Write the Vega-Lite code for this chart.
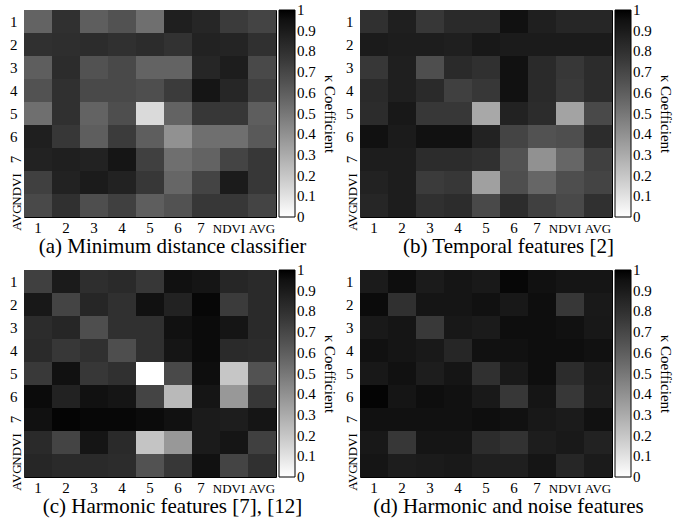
{
  "$schema": "https://vega.github.io/schema/vega-lite/v6.json",
  "padding": {"left": 7, "top": 9, "right": 0, "bottom": 0},
  "background": "white",
  "config": {
    "view": {"stroke": "black", "strokeWidth": 1},
    "font": "Liberation Serif",
    "axisX": {
      "title": null, "ticks": false, "domain": false, "labelAngle": 0,
      "labelFont": "Liberation Serif", "labelColor": "black",
      "labelFontSize": {"condition": {"test": "datum.value == 'NDVI' || datum.value == 'AVG'", "value": 13}, "value": 15},
      "labelOffset": {"condition": {"test": "datum.value == '7' || datum.value == 'NDVI'", "value": -5}, "value": 0},
      "labelAlign": "center",
      "labelBaseline": "alphabetic", "labelPadding": 15
    },
    "axisY": {
      "title": null, "ticks": false, "domain": false,
      "labelFont": "Liberation Serif", "labelColor": "black",
      "labelFontSize": {"condition": {"test": "datum.value == 'NDVI' || datum.value == 'AVG'", "value": 13}, "value": 15},
      "labelPadding": 7
    },
    "legend": {
      "orient": "right", "offset": 3, "direction": "vertical",
      "gradientLength": 207, "gradientThickness": 16,
      "gradientStrokeColor": "black", "gradientStrokeWidth": 1,
      "labelFont": "Liberation Serif", "labelFontSize": 15, "labelColor": "black",
      "labelOffset": 2, "labelOverlap": false, "labelBaseline": "middle",
      "titleFont": "Liberation Serif", "titleFontSize": 15, "titleFontWeight": "normal", "titleColor": "black",
      "titleOrient": "right", "titleAnchor": "middle", "titlePadding": 6
    },
    "title": {"font": "Liberation Serif", "fontSize": 21, "fontWeight": "normal", "color": "black", "orient": "bottom", "anchor": "middle", "frame": "bounds", "offset": 1}
  },
  "data": {"values": [
    {"p":"a","r":"1","c":"1","v":0.58},{"p":"a","r":"1","c":"2","v":0.80},{"p":"a","r":"1","c":"3","v":0.60},{"p":"a","r":"1","c":"4","v":0.65},{"p":"a","r":"1","c":"5","v":0.53},{"p":"a","r":"1","c":"6","v":0.88},{"p":"a","r":"1","c":"7","v":0.85},{"p":"a","r":"1","c":"NDVI","v":0.75},{"p":"a","r":"1","c":"AVG","v":0.71},
    {"p":"a","r":"2","c":"1","v":0.80},{"p":"a","r":"2","c":"2","v":0.81},{"p":"a","r":"2","c":"3","v":0.82},{"p":"a","r":"2","c":"4","v":0.80},{"p":"a","r":"2","c":"5","v":0.82},{"p":"a","r":"2","c":"6","v":0.79},{"p":"a","r":"2","c":"7","v":0.87},{"p":"a","r":"2","c":"NDVI","v":0.86},{"p":"a","r":"2","c":"AVG","v":0.80},
    {"p":"a","r":"3","c":"1","v":0.60},{"p":"a","r":"3","c":"2","v":0.82},{"p":"a","r":"3","c":"3","v":0.65},{"p":"a","r":"3","c":"4","v":0.69},{"p":"a","r":"3","c":"5","v":0.58},{"p":"a","r":"3","c":"6","v":0.58},{"p":"a","r":"3","c":"7","v":0.85},{"p":"a","r":"3","c":"NDVI","v":0.89},{"p":"a","r":"3","c":"AVG","v":0.69},
    {"p":"a","r":"4","c":"1","v":0.65},{"p":"a","r":"4","c":"2","v":0.80},{"p":"a","r":"4","c":"3","v":0.69},{"p":"a","r":"4","c":"4","v":0.69},{"p":"a","r":"4","c":"5","v":0.67},{"p":"a","r":"4","c":"6","v":0.75},{"p":"a","r":"4","c":"7","v":0.93},{"p":"a","r":"4","c":"NDVI","v":0.85},{"p":"a","r":"4","c":"AVG","v":0.73},
    {"p":"a","r":"5","c":"1","v":0.53},{"p":"a","r":"5","c":"2","v":0.80},{"p":"a","r":"5","c":"3","v":0.58},{"p":"a","r":"5","c":"4","v":0.67},{"p":"a","r":"5","c":"5","v":0.13},{"p":"a","r":"5","c":"6","v":0.58},{"p":"a","r":"5","c":"7","v":0.77},{"p":"a","r":"5","c":"NDVI","v":0.77},{"p":"a","r":"5","c":"AVG","v":0.60},
    {"p":"a","r":"6","c":"1","v":0.88},{"p":"a","r":"6","c":"2","v":0.77},{"p":"a","r":"6","c":"3","v":0.60},{"p":"a","r":"6","c":"4","v":0.75},{"p":"a","r":"6","c":"5","v":0.60},{"p":"a","r":"6","c":"6","v":0.40},{"p":"a","r":"6","c":"7","v":0.53},{"p":"a","r":"6","c":"NDVI","v":0.53},{"p":"a","r":"6","c":"AVG","v":0.62},
    {"p":"a","r":"7","c":"1","v":0.87},{"p":"a","r":"7","c":"2","v":0.88},{"p":"a","r":"7","c":"3","v":0.87},{"p":"a","r":"7","c":"4","v":0.93},{"p":"a","r":"7","c":"5","v":0.73},{"p":"a","r":"7","c":"6","v":0.53},{"p":"a","r":"7","c":"7","v":0.58},{"p":"a","r":"7","c":"NDVI","v":0.71},{"p":"a","r":"7","c":"AVG","v":0.77},
    {"p":"a","r":"NDVI","c":"1","v":0.73},{"p":"a","r":"NDVI","c":"2","v":0.87},{"p":"a","r":"NDVI","c":"3","v":0.90},{"p":"a","r":"NDVI","c":"4","v":0.87},{"p":"a","r":"NDVI","c":"5","v":0.77},{"p":"a","r":"NDVI","c":"6","v":0.57},{"p":"a","r":"NDVI","c":"7","v":0.71},{"p":"a","r":"NDVI","c":"NDVI","v":0.90},{"p":"a","r":"NDVI","c":"AVG","v":0.77},
    {"p":"a","r":"AVG","c":"1","v":0.69},{"p":"a","r":"AVG","c":"2","v":0.80},{"p":"a","r":"AVG","c":"3","v":0.67},{"p":"a","r":"AVG","c":"4","v":0.73},{"p":"a","r":"AVG","c":"5","v":0.60},{"p":"a","r":"AVG","c":"6","v":0.65},{"p":"a","r":"AVG","c":"7","v":0.77},{"p":"a","r":"AVG","c":"NDVI","v":0.77},{"p":"a","r":"AVG","c":"AVG","v":0.71},

    {"p":"b","r":"1","c":"1","v":0.80},{"p":"b","r":"1","c":"2","v":0.88},{"p":"b","r":"1","c":"3","v":0.77},{"p":"b","r":"1","c":"4","v":0.83},{"p":"b","r":"1","c":"5","v":0.83},{"p":"b","r":"1","c":"6","v":0.95},{"p":"b","r":"1","c":"7","v":0.88},{"p":"b","r":"1","c":"NDVI","v":0.85},{"p":"b","r":"1","c":"AVG","v":0.85},
    {"p":"b","r":"2","c":"1","v":0.90},{"p":"b","r":"2","c":"2","v":0.89},{"p":"b","r":"2","c":"3","v":0.89},{"p":"b","r":"2","c":"4","v":0.88},{"p":"b","r":"2","c":"5","v":0.92},{"p":"b","r":"2","c":"6","v":0.90},{"p":"b","r":"2","c":"7","v":0.90},{"p":"b","r":"2","c":"NDVI","v":0.90},{"p":"b","r":"2","c":"AVG","v":0.90},
    {"p":"b","r":"3","c":"1","v":0.77},{"p":"b","r":"3","c":"2","v":0.88},{"p":"b","r":"3","c":"3","v":0.67},{"p":"b","r":"3","c":"4","v":0.83},{"p":"b","r":"3","c":"5","v":0.80},{"p":"b","r":"3","c":"6","v":0.95},{"p":"b","r":"3","c":"7","v":0.83},{"p":"b","r":"3","c":"NDVI","v":0.77},{"p":"b","r":"3","c":"AVG","v":0.82},
    {"p":"b","r":"4","c":"1","v":0.83},{"p":"b","r":"4","c":"2","v":0.88},{"p":"b","r":"4","c":"3","v":0.83},{"p":"b","r":"4","c":"4","v":0.73},{"p":"b","r":"4","c":"5","v":0.77},{"p":"b","r":"4","c":"6","v":0.95},{"p":"b","r":"4","c":"7","v":0.83},{"p":"b","r":"4","c":"NDVI","v":0.76},{"p":"b","r":"4","c":"AVG","v":0.82},
    {"p":"b","r":"5","c":"1","v":0.82},{"p":"b","r":"5","c":"2","v":0.92},{"p":"b","r":"5","c":"3","v":0.77},{"p":"b","r":"5","c":"4","v":0.77},{"p":"b","r":"5","c":"5","v":0.31},{"p":"b","r":"5","c":"6","v":0.87},{"p":"b","r":"5","c":"7","v":0.82},{"p":"b","r":"5","c":"NDVI","v":0.33},{"p":"b","r":"5","c":"AVG","v":0.69},
    {"p":"b","r":"6","c":"1","v":0.95},{"p":"b","r":"6","c":"2","v":0.90},{"p":"b","r":"6","c":"3","v":0.95},{"p":"b","r":"6","c":"4","v":0.95},{"p":"b","r":"6","c":"5","v":0.87},{"p":"b","r":"6","c":"6","v":0.71},{"p":"b","r":"6","c":"7","v":0.65},{"p":"b","r":"6","c":"NDVI","v":0.67},{"p":"b","r":"6","c":"AVG","v":0.82},
    {"p":"b","r":"7","c":"1","v":0.89},{"p":"b","r":"7","c":"2","v":0.89},{"p":"b","r":"7","c":"3","v":0.82},{"p":"b","r":"7","c":"4","v":0.82},{"p":"b","r":"7","c":"5","v":0.80},{"p":"b","r":"7","c":"6","v":0.65},{"p":"b","r":"7","c":"7","v":0.40},{"p":"b","r":"7","c":"NDVI","v":0.57},{"p":"b","r":"7","c":"AVG","v":0.73},
    {"p":"b","r":"NDVI","c":"1","v":0.87},{"p":"b","r":"NDVI","c":"2","v":0.89},{"p":"b","r":"NDVI","c":"3","v":0.75},{"p":"b","r":"NDVI","c":"4","v":0.77},{"p":"b","r":"NDVI","c":"5","v":0.34},{"p":"b","r":"NDVI","c":"6","v":0.67},{"p":"b","r":"NDVI","c":"7","v":0.57},{"p":"b","r":"NDVI","c":"NDVI","v":0.67},{"p":"b","r":"NDVI","c":"AVG","v":0.71},
    {"p":"b","r":"AVG","c":"1","v":0.85},{"p":"b","r":"AVG","c":"2","v":0.89},{"p":"b","r":"AVG","c":"3","v":0.80},{"p":"b","r":"AVG","c":"4","v":0.82},{"p":"b","r":"AVG","c":"5","v":0.69},{"p":"b","r":"AVG","c":"6","v":0.82},{"p":"b","r":"AVG","c":"7","v":0.73},{"p":"b","r":"AVG","c":"NDVI","v":0.69},{"p":"b","r":"AVG","c":"AVG","v":0.80},

    {"p":"c","r":"1","c":"1","v":0.73},{"p":"c","r":"1","c":"2","v":0.90},{"p":"c","r":"1","c":"3","v":0.81},{"p":"c","r":"1","c":"4","v":0.83},{"p":"c","r":"1","c":"5","v":0.77},{"p":"c","r":"1","c":"6","v":0.95},{"p":"c","r":"1","c":"7","v":0.93},{"p":"c","r":"1","c":"NDVI","v":0.85},{"p":"c","r":"1","c":"AVG","v":0.83},
    {"p":"c","r":"2","c":"1","v":0.92},{"p":"c","r":"2","c":"2","v":0.71},{"p":"c","r":"2","c":"3","v":0.85},{"p":"c","r":"2","c":"4","v":0.80},{"p":"c","r":"2","c":"5","v":0.95},{"p":"c","r":"2","c":"6","v":0.87},{"p":"c","r":"2","c":"7","v":0.98},{"p":"c","r":"2","c":"NDVI","v":0.75},{"p":"c","r":"2","c":"AVG","v":0.83},
    {"p":"c","r":"3","c":"1","v":0.82},{"p":"c","r":"3","c":"2","v":0.85},{"p":"c","r":"3","c":"3","v":0.67},{"p":"c","r":"3","c":"4","v":0.80},{"p":"c","r":"3","c":"5","v":0.80},{"p":"c","r":"3","c":"6","v":0.95},{"p":"c","r":"3","c":"7","v":0.97},{"p":"c","r":"3","c":"NDVI","v":0.93},{"p":"c","r":"3","c":"AVG","v":0.83},
    {"p":"c","r":"4","c":"1","v":0.83},{"p":"c","r":"4","c":"2","v":0.77},{"p":"c","r":"4","c":"3","v":0.80},{"p":"c","r":"4","c":"4","v":0.67},{"p":"c","r":"4","c":"5","v":0.80},{"p":"c","r":"4","c":"6","v":0.93},{"p":"c","r":"4","c":"7","v":0.97},{"p":"c","r":"4","c":"NDVI","v":0.83},{"p":"c","r":"4","c":"AVG","v":0.82},
    {"p":"c","r":"5","c":"1","v":0.76},{"p":"c","r":"5","c":"2","v":0.95},{"p":"c","r":"5","c":"3","v":0.77},{"p":"c","r":"5","c":"4","v":0.80},{"p":"c","r":"5","c":"5","v":0.00},{"p":"c","r":"5","c":"6","v":0.69},{"p":"c","r":"5","c":"7","v":0.96},{"p":"c","r":"5","c":"NDVI","v":0.20},{"p":"c","r":"5","c":"AVG","v":0.65},
    {"p":"c","r":"6","c":"1","v":0.97},{"p":"c","r":"6","c":"2","v":0.87},{"p":"c","r":"6","c":"3","v":0.95},{"p":"c","r":"6","c":"4","v":0.93},{"p":"c","r":"6","c":"5","v":0.71},{"p":"c","r":"6","c":"6","v":0.25},{"p":"c","r":"6","c":"7","v":0.93},{"p":"c","r":"6","c":"NDVI","v":0.37},{"p":"c","r":"6","c":"AVG","v":0.77},
    {"p":"c","r":"7","c":"1","v":0.95},{"p":"c","r":"7","c":"2","v":0.99},{"p":"c","r":"7","c":"3","v":0.98},{"p":"c","r":"7","c":"4","v":0.98},{"p":"c","r":"7","c":"5","v":0.97},{"p":"c","r":"7","c":"6","v":0.95},{"p":"c","r":"7","c":"7","v":0.90},{"p":"c","r":"7","c":"NDVI","v":0.89},{"p":"c","r":"7","c":"AVG","v":0.93},
    {"p":"c","r":"NDVI","c":"1","v":0.83},{"p":"c","r":"NDVI","c":"2","v":0.71},{"p":"c","r":"NDVI","c":"3","v":0.93},{"p":"c","r":"NDVI","c":"4","v":0.83},{"p":"c","r":"NDVI","c":"5","v":0.21},{"p":"c","r":"NDVI","c":"6","v":0.37},{"p":"c","r":"NDVI","c":"7","v":0.90},{"p":"c","r":"NDVI","c":"NDVI","v":0.93},{"p":"c","r":"NDVI","c":"AVG","v":0.73},
    {"p":"c","r":"AVG","c":"1","v":0.85},{"p":"c","r":"AVG","c":"2","v":0.83},{"p":"c","r":"AVG","c":"3","v":0.83},{"p":"c","r":"AVG","c":"4","v":0.82},{"p":"c","r":"AVG","c":"5","v":0.65},{"p":"c","r":"AVG","c":"6","v":0.77},{"p":"c","r":"AVG","c":"7","v":0.95},{"p":"c","r":"AVG","c":"NDVI","v":0.71},{"p":"c","r":"AVG","c":"AVG","v":0.80},

    {"p":"d","r":"1","c":"1","v":0.90},{"p":"d","r":"1","c":"2","v":0.96},{"p":"d","r":"1","c":"3","v":0.90},{"p":"d","r":"1","c":"4","v":0.93},{"p":"d","r":"1","c":"5","v":0.91},{"p":"d","r":"1","c":"6","v":0.98},{"p":"d","r":"1","c":"7","v":0.95},{"p":"d","r":"1","c":"NDVI","v":0.93},{"p":"d","r":"1","c":"AVG","v":0.93},
    {"p":"d","r":"2","c":"1","v":0.97},{"p":"d","r":"2","c":"2","v":0.80},{"p":"d","r":"2","c":"3","v":0.93},{"p":"d","r":"2","c":"4","v":0.93},{"p":"d","r":"2","c":"5","v":0.95},{"p":"d","r":"2","c":"6","v":0.92},{"p":"d","r":"2","c":"7","v":0.96},{"p":"d","r":"2","c":"NDVI","v":0.77},{"p":"d","r":"2","c":"AVG","v":0.91},
    {"p":"d","r":"3","c":"1","v":0.91},{"p":"d","r":"3","c":"2","v":0.93},{"p":"d","r":"3","c":"3","v":0.76},{"p":"d","r":"3","c":"4","v":0.92},{"p":"d","r":"3","c":"5","v":0.90},{"p":"d","r":"3","c":"6","v":0.96},{"p":"d","r":"3","c":"7","v":0.96},{"p":"d","r":"3","c":"NDVI","v":0.95},{"p":"d","r":"3","c":"AVG","v":0.92},
    {"p":"d","r":"4","c":"1","v":0.95},{"p":"d","r":"4","c":"2","v":0.93},{"p":"d","r":"4","c":"3","v":0.91},{"p":"d","r":"4","c":"4","v":0.85},{"p":"d","r":"4","c":"5","v":0.95},{"p":"d","r":"4","c":"6","v":0.95},{"p":"d","r":"4","c":"7","v":0.96},{"p":"d","r":"4","c":"NDVI","v":0.96},{"p":"d","r":"4","c":"AVG","v":0.95},
    {"p":"d","r":"5","c":"1","v":0.92},{"p":"d","r":"5","c":"2","v":0.95},{"p":"d","r":"5","c":"3","v":0.89},{"p":"d","r":"5","c":"4","v":0.93},{"p":"d","r":"5","c":"5","v":0.80},{"p":"d","r":"5","c":"6","v":0.91},{"p":"d","r":"5","c":"7","v":0.96},{"p":"d","r":"5","c":"NDVI","v":0.82},{"p":"d","r":"5","c":"AVG","v":0.90},
    {"p":"d","r":"6","c":"1","v":0.99},{"p":"d","r":"6","c":"2","v":0.93},{"p":"d","r":"6","c":"3","v":0.96},{"p":"d","r":"6","c":"4","v":0.95},{"p":"d","r":"6","c":"5","v":0.91},{"p":"d","r":"6","c":"6","v":0.77},{"p":"d","r":"6","c":"7","v":0.93},{"p":"d","r":"6","c":"NDVI","v":0.77},{"p":"d","r":"6","c":"AVG","v":0.89},
    {"p":"d","r":"7","c":"1","v":0.95},{"p":"d","r":"7","c":"2","v":0.95},{"p":"d","r":"7","c":"3","v":0.95},{"p":"d","r":"7","c":"4","v":0.95},{"p":"d","r":"7","c":"5","v":0.96},{"p":"d","r":"7","c":"6","v":0.95},{"p":"d","r":"7","c":"7","v":0.92},{"p":"d","r":"7","c":"NDVI","v":0.90},{"p":"d","r":"7","c":"AVG","v":0.95},
    {"p":"d","r":"NDVI","c":"1","v":0.92},{"p":"d","r":"NDVI","c":"2","v":0.77},{"p":"d","r":"NDVI","c":"3","v":0.93},{"p":"d","r":"NDVI","c":"4","v":0.93},{"p":"d","r":"NDVI","c":"5","v":0.82},{"p":"d","r":"NDVI","c":"6","v":0.79},{"p":"d","r":"NDVI","c":"7","v":0.89},{"p":"d","r":"NDVI","c":"NDVI","v":0.91},{"p":"d","r":"NDVI","c":"AVG","v":0.87},
    {"p":"d","r":"AVG","c":"1","v":0.93},{"p":"d","r":"AVG","c":"2","v":0.89},{"p":"d","r":"AVG","c":"3","v":0.90},{"p":"d","r":"AVG","c":"4","v":0.91},{"p":"d","r":"AVG","c":"5","v":0.88},{"p":"d","r":"AVG","c":"6","v":0.88},{"p":"d","r":"AVG","c":"7","v":0.93},{"p":"d","r":"AVG","c":"NDVI","v":0.85},{"p":"d","r":"AVG","c":"AVG","v":0.90}
  ]},
  "columns": 2,
  "spacing": {"row": 11, "column": 5},
  "resolve": {"scale": {"color": "independent", "x": "independent", "y": "independent"}, "legend": {"color": "independent"}},
  "concat": [
    {
      "title": {"text": "(a) Minimum distance classifier"},
      "width": 252, "height": 207,
      "transform": [{"filter": "datum.p == 'a'"}],
      "mark": {"type": "rect"},
      "encoding": {
        "x": {"field": "c", "type": "nominal", "sort": ["1","2","3","4","5","6","7","NDVI","AVG"], "scale": {"paddingInner": 0, "paddingOuter": 0}},
        "y": {"field": "r", "type": "nominal", "sort": ["1","2","3","4","5","6","7","NDVI","AVG"], "scale": {"paddingInner": 0, "paddingOuter": 0},
          "axis": {"encoding": {"labels": {
            "angle": {"condition": {"test": "indexof(['7','NDVI','AVG'], datum.value) >= 0", "value": -90}, "value": 0},
            "align": {"condition": {"test": "indexof(['7','NDVI','AVG'], datum.value) >= 0", "value": "center"}, "value": "right"},
            "baseline": {"condition": {"test": "indexof(['7','NDVI','AVG'], datum.value) >= 0", "value": "alphabetic"}, "value": "middle"},
            "dx": {"value": {"expr": "datum.value == 'NDVI' ? -7 : datum.value == 'AVG' ? -12 : 0"}},
            "dy": {"condition": {"test": "indexof(['7','NDVI','AVG'], datum.value) >= 0", "value": 3}, "value": 0}
          }}}},
        "color": {"field": "v", "type": "quantitative", "scale": {"domain": [0, 1], "range": ["#ffffff", "#000000"]},
          "legend": {"title": "κ Coefficient", "values": [0,0.1,0.2,0.3,0.4,0.5,0.6,0.7,0.8,0.9,1], "format": ".1~f", "encoding": {"labels": {"baseline": {"value": "middle"}}}}}
      }
    },
    {
      "title": {"text": "(b) Temporal features [2]"},
      "width": 252, "height": 207,
      "transform": [{"filter": "datum.p == 'b'"}],
      "mark": {"type": "rect"},
      "encoding": {
        "x": {"field": "c", "type": "nominal", "sort": ["1","2","3","4","5","6","7","NDVI","AVG"], "scale": {"paddingInner": 0, "paddingOuter": 0}},
        "y": {"field": "r", "type": "nominal", "sort": ["1","2","3","4","5","6","7","NDVI","AVG"], "scale": {"paddingInner": 0, "paddingOuter": 0},
          "axis": {"encoding": {"labels": {
            "angle": {"condition": {"test": "indexof(['7','NDVI','AVG'], datum.value) >= 0", "value": -90}, "value": 0},
            "align": {"condition": {"test": "indexof(['7','NDVI','AVG'], datum.value) >= 0", "value": "center"}, "value": "right"},
            "baseline": {"condition": {"test": "indexof(['7','NDVI','AVG'], datum.value) >= 0", "value": "alphabetic"}, "value": "middle"},
            "dx": {"value": {"expr": "datum.value == 'NDVI' ? -7 : datum.value == 'AVG' ? -12 : 0"}},
            "dy": {"condition": {"test": "indexof(['7','NDVI','AVG'], datum.value) >= 0", "value": 3}, "value": 0}
          }}}},
        "color": {"field": "v", "type": "quantitative", "scale": {"domain": [0, 1], "range": ["#ffffff", "#000000"]},
          "legend": {"title": "κ Coefficient", "values": [0,0.1,0.2,0.3,0.4,0.5,0.6,0.7,0.8,0.9,1], "format": ".1~f", "encoding": {"labels": {"baseline": {"value": "middle"}}}}}
      }
    },
    {
      "title": {"text": "(c) Harmonic features [7], [12]"},
      "width": 252, "height": 207,
      "transform": [{"filter": "datum.p == 'c'"}],
      "mark": {"type": "rect"},
      "encoding": {
        "x": {"field": "c", "type": "nominal", "sort": ["1","2","3","4","5","6","7","NDVI","AVG"], "scale": {"paddingInner": 0, "paddingOuter": 0}},
        "y": {"field": "r", "type": "nominal", "sort": ["1","2","3","4","5","6","7","NDVI","AVG"], "scale": {"paddingInner": 0, "paddingOuter": 0},
          "axis": {"encoding": {"labels": {
            "angle": {"condition": {"test": "indexof(['7','NDVI','AVG'], datum.value) >= 0", "value": -90}, "value": 0},
            "align": {"condition": {"test": "indexof(['7','NDVI','AVG'], datum.value) >= 0", "value": "center"}, "value": "right"},
            "baseline": {"condition": {"test": "indexof(['7','NDVI','AVG'], datum.value) >= 0", "value": "alphabetic"}, "value": "middle"},
            "dx": {"value": {"expr": "datum.value == 'NDVI' ? -7 : datum.value == 'AVG' ? -12 : 0"}},
            "dy": {"condition": {"test": "indexof(['7','NDVI','AVG'], datum.value) >= 0", "value": 3}, "value": 0}
          }}}},
        "color": {"field": "v", "type": "quantitative", "scale": {"domain": [0, 1], "range": ["#ffffff", "#000000"]},
          "legend": {"title": "κ Coefficient", "values": [0,0.1,0.2,0.3,0.4,0.5,0.6,0.7,0.8,0.9,1], "format": ".1~f", "encoding": {"labels": {"baseline": {"value": "middle"}}}}}
      }
    },
    {
      "title": {"text": "(d) Harmonic and noise features"},
      "width": 252, "height": 207,
      "transform": [{"filter": "datum.p == 'd'"}],
      "mark": {"type": "rect"},
      "encoding": {
        "x": {"field": "c", "type": "nominal", "sort": ["1","2","3","4","5","6","7","NDVI","AVG"], "scale": {"paddingInner": 0, "paddingOuter": 0}},
        "y": {"field": "r", "type": "nominal", "sort": ["1","2","3","4","5","6","7","NDVI","AVG"], "scale": {"paddingInner": 0, "paddingOuter": 0},
          "axis": {"encoding": {"labels": {
            "angle": {"condition": {"test": "indexof(['7','NDVI','AVG'], datum.value) >= 0", "value": -90}, "value": 0},
            "align": {"condition": {"test": "indexof(['7','NDVI','AVG'], datum.value) >= 0", "value": "center"}, "value": "right"},
            "baseline": {"condition": {"test": "indexof(['7','NDVI','AVG'], datum.value) >= 0", "value": "alphabetic"}, "value": "middle"},
            "dx": {"value": {"expr": "datum.value == 'NDVI' ? -7 : datum.value == 'AVG' ? -12 : 0"}},
            "dy": {"condition": {"test": "indexof(['7','NDVI','AVG'], datum.value) >= 0", "value": 3}, "value": 0}
          }}}},
        "color": {"field": "v", "type": "quantitative", "scale": {"domain": [0, 1], "range": ["#ffffff", "#000000"]},
          "legend": {"title": "κ Coefficient", "values": [0,0.1,0.2,0.3,0.4,0.5,0.6,0.7,0.8,0.9,1], "format": ".1~f", "encoding": {"labels": {"baseline": {"value": "middle"}}}}}
      }
    }
  ]
}
